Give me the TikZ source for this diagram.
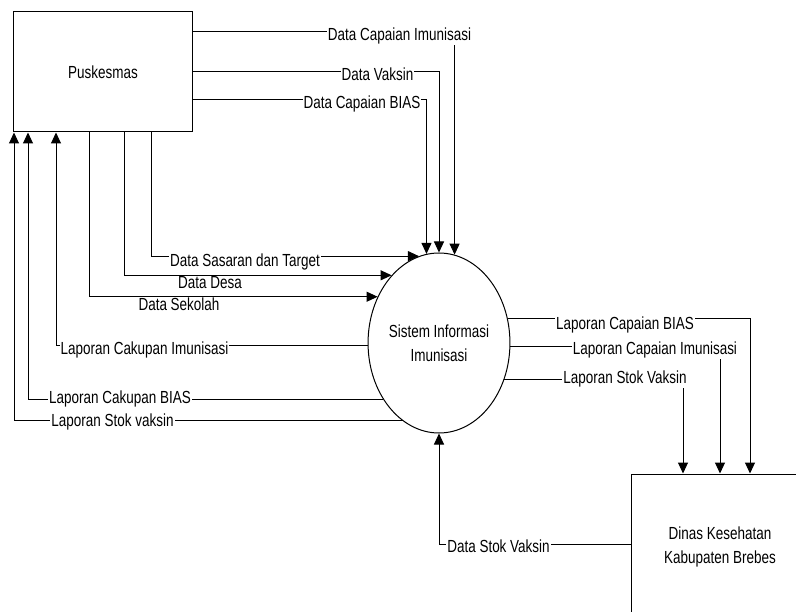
\documentclass[tikz,border=0pt]{standalone}
\usepackage{fontspec}
\setmainfont[FakeStretch=0.77]{Liberation Sans}
\usetikzlibrary{shapes.geometric,arrows.meta}
\begin{document}
\begin{tikzpicture}[x=1bp,y=-1bp,
  every node/.style={font=\fontsize{17.5bp}{24bp}\selectfont},
  flow/.style={line width=1bp,-{Triangle[length=11bp,width=10bp]}},
  entity/.style={draw,line width=1bp,rectangle,minimum width=178bp,minimum height=120bp,align=center,inner sep=0pt},
  process/.style={draw,line width=1bp,ellipse,minimum width=124bp,minimum height=180bp,align=center,inner sep=0pt},
  lbl/.style={fill=white,inner xsep=1bp,inner ysep=0.5bp,anchor=base}]
\useasboundingbox (0,0) rectangle (796,612);
\clip (0,0) rectangle (796,612);
\fill[white] (0,0) rectangle (796,612);

\node[entity] (pusk) at (103,72) {Puskesmas};
\node[process] (sys) at (439,343) {Sistem Informasi\\Imunisasi};
\node[entity,minimum height=146bp] (dinas) at (720,547) {Dinas Kesehatan\\Kabupaten Brebes};

% Puskesmas -> Sistem (top)
\draw[flow] (pusk.east |- 0,32) -| (sys.80.9)
  node[lbl] at (399.5,40.5) {Data Capaian Imunisasi};
\draw[flow] (pusk.east |- 0,72) -| (sys.north)
  node[lbl] at (377.5,80.5) {Data Vaksin};
\draw[flow] (pusk.east |- 0,100) -| (sys.98.4)
  node[lbl] at (362,108.5) {Data Capaian BIAS};

% Puskesmas -> Sistem (bottom)
\draw[flow] (pusk.south -| 151,0) |- (sys.103.5)
  node[lbl] at (245,266.5) {Data Sasaran dan Target};
\draw[flow] (pusk.south -| 124,0) |- (sys.125.1)
  node[lbl] at (210,288.5) {Data Desa};
\draw[flow] (pusk.south -| 89,0) |- (sys.143.4)
  node[lbl] at (179,310.5) {Data Sekolah};

% Sistem -> Puskesmas
\draw[flow] (sys.182.8) -| (pusk.south -| 56,0)
  node[lbl] at (144.5,354.5) {Laporan Cakupan Imunisasi};
\draw[flow] (sys.225.8) -| (pusk.south -| 28,0)
  node[lbl] at (120,403.5) {Laporan Cakupan BIAS};
\draw[flow] (sys.245.4) -| (pusk.south -| 14,0)
  node[lbl] at (112.5,426.5) {Laporan Stok vaksin};

% Sistem -> Dinas
\draw[flow] (sys.20.1) -| (dinas.north -| 750,0)
  node[lbl] at (625,329.5) {Laporan Capaian BIAS};
\draw[flow] (sys.357.2) -| (dinas.north -| 720,0)
  node[lbl] at (655,354.5) {Laporan Capaian Imunisasi};
\draw[flow] (sys.331.1) -| (dinas.north -| 683,0)
  node[lbl] at (625,383.5) {Laporan Stok Vaksin};

% Dinas -> Sistem
\draw[flow] (dinas.west |- 0,544) -| (sys.south)
  node[lbl] at (498.5,552.5) {Data Stok Vaksin};
\end{tikzpicture}
\end{document}
